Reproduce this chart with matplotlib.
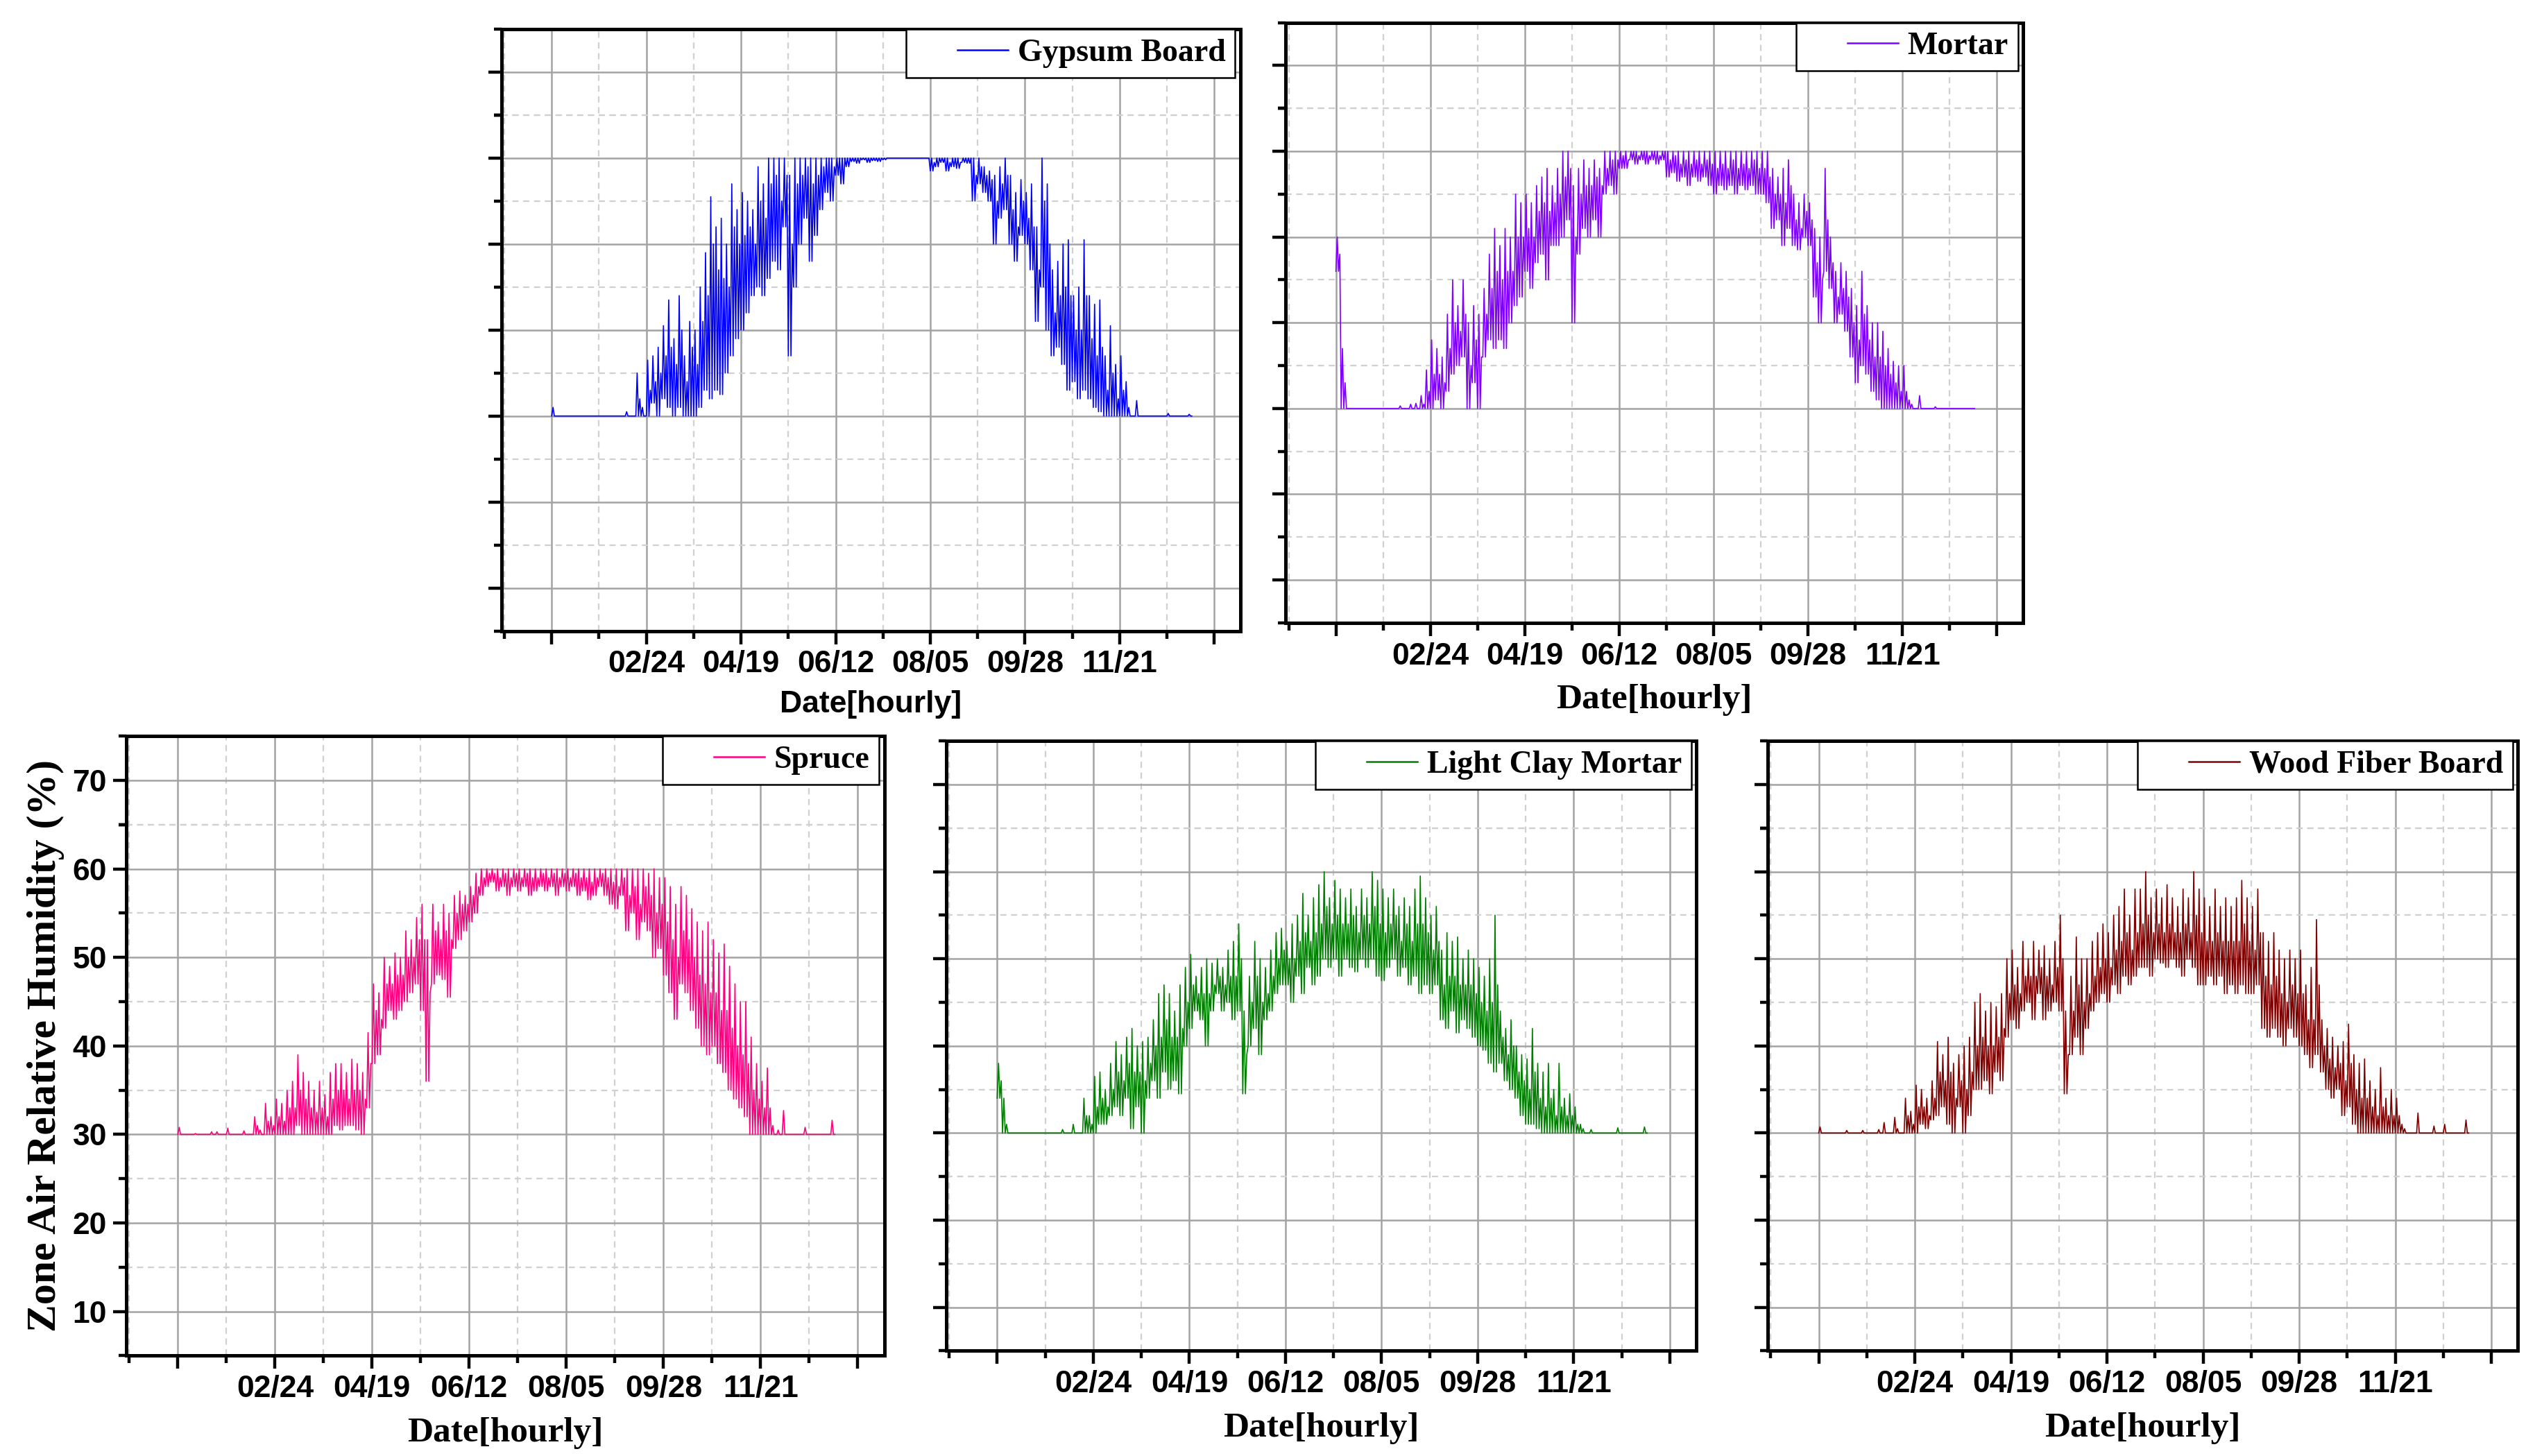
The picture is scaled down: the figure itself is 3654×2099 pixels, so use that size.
import numpy as np
import matplotlib
matplotlib.use("Agg")
import matplotlib.pyplot as plt
from matplotlib import font_manager
from matplotlib.legend_handler import HandlerLine2D
from matplotlib.ticker import FixedLocator

# Sampling days (every 3 days); each sample keeps the low, the high and a second
# (smaller) peak of the hourly trace inside that 3-day window
day = np.arange(0, 366, 3)

tick_hours = [0, 1296, 2592, 3888, 5184, 6480, 7776, 9072]
tick_labels = ["", "02/24", "04/19", "06/12", "08/05", "09/28", "11/21", ""]
y_ticks = [10, 20, 30, 40, 50, 60, 70]

gypsum_lo = [30, 30, 30, 30, 30, 30, 30, 30, 30, 30,
             30, 30, 30, 30, 30, 30, 30, 30, 30, 31.5,
             30, 32, 31, 30, 31, 30, 30, 30, 31, 33,
             32, 33, 32.5, 35, 37, 39, 40, 42, 44, 45,
             44, 46, 48, 47, 52, 37, 45, 50, 53, 48,
             51, 54, 56, 55, 58, 57, 59, 59.6, 59.4, 59.8,
             59.5, 59.7, 59.6, 59.8, 60, 60, 60, 60, 60, 60,
             60, 60, 58.5, 59, 59.5, 58.5, 59, 58.8, 59.5, 59.4,
             55, 57, 56, 55, 50, 53, 54, 50, 48, 51,
             50, 47, 41, 45, 40, 37, 38, 36, 33, 34,
             32, 33, 32, 31, 30.5, 30, 30, 30, 30, 30,
             30, 30, 30, 30, 30, 30, 30, 30, 30, 30,
             30, 30]
gypsum_hi = [31, 30, 30, 30, 30, 30, 30, 30, 30, 30,
             30, 30, 30, 30, 30.5, 30, 35, 31, 36.5, 37,
             38, 40.5, 43.5, 39, 44, 37, 41, 40, 45, 49,
             55.5, 52, 53, 50, 57, 54, 56, 55, 54, 59,
             57, 60, 60, 60, 60, 58, 60, 60, 60, 60,
             60, 60, 60, 60, 60, 60, 60, 60, 60, 60,
             60, 60, 60, 60, 60, 60, 60, 60, 60, 60,
             60, 60, 60, 60, 60, 60, 60, 60, 60, 60,
             60, 60, 59, 58.5, 58, 59, 60, 58, 56, 57.5,
             56, 57, 52, 60, 57, 47, 48, 50, 50.5, 44,
             45, 50.5, 44, 43, 43.5, 37, 40.5, 36, 37, 34,
             30, 31.8, 30, 30, 30, 30, 30, 30.3, 30, 30,
             30, 30.2]
gypsum_mid = [30, 30, 30, 30, 30, 30, 30, 30, 30, 30,
              30, 30, 30, 30, 30, 30, 32, 30, 33, 34,
              35, 37, 38, 36, 40, 34, 38, 36, 41, 44,
              50, 47, 46, 45, 52, 50, 51, 52, 50, 55,
              53, 57, 58, 55, 58, 50, 57, 58, 59, 57,
              58, 59, 60, 59, 60, 60, 60, 60, 60, 60,
              60, 60, 60, 60, 60, 60, 60, 60, 60, 60,
              60, 60, 59.5, 60, 60, 59.5, 60, 59.5, 60, 60,
              58, 59, 58, 57.5, 55, 57, 58, 54, 52, 55,
              53, 52, 47, 55, 50, 42, 44, 45, 44, 40,
              40, 44, 39, 37, 38, 33, 35, 32, 33, 31,
              30, 30, 30, 30, 30, 30, 30, 30, 30, 30,
              30, 30]

mortar_lo = [46, 30, 30, 30, 30, 30, 30, 30, 30, 30,
             30, 30, 30, 30, 30, 30, 30, 30, 30, 31,
             30, 32, 34, 35, 36, 30, 33, 30, 36, 38,
             37, 38, 37, 40, 42, 43, 46, 44, 47, 48,
             45, 49, 49, 50, 52, 40, 48, 51, 50, 52,
             50, 55, 56, 55, 58, 58, 59, 58.5, 59, 58.5,
             59, 58.5, 59, 57, 57.5, 56.5, 57, 56, 57, 56.5,
             57, 56, 55, 56, 55.5, 56, 55, 56, 55.5, 56,
             55, 55, 54, 51, 52, 49, 51, 49, 48.5, 50,
             49, 43, 40, 46, 44, 40, 41, 39, 36, 33,
             35, 34, 32, 31, 30, 30, 30, 30, 30, 30,
             30, 30, 30, 30, 30, 30, 30, 30, 30, 30,
             30, 30]
mortar_hi = [50, 37, 30, 30, 30, 30, 30, 30, 30, 30,
             30, 30, 30.3, 30, 30.5, 30.6, 31.5, 34.5, 38, 37,
             36, 41, 45, 42, 45, 40, 42, 41, 44, 48,
             51, 49, 51, 50, 55, 54, 55, 54, 56, 57,
             58, 56, 58, 60, 60, 56, 58, 59, 58, 59,
             58, 60, 60, 60, 60, 60, 60, 60, 60, 60,
             60, 60, 60, 60, 60, 60, 60, 60, 60, 60,
             60, 60, 60, 60, 60, 60, 60, 60, 60, 60,
             60, 60, 60, 58, 57, 58, 59, 55, 54, 55,
             54, 51, 50, 58, 50, 46, 47, 46, 44, 42,
             46, 42, 40, 40, 39, 37, 35.5, 35, 35, 31,
             30, 31.5, 30, 30, 30.2, 30, 30, 30, 30, 30,
             30, 30]
mortar_mid = [48, 33, 30, 30, 30, 30, 30, 30, 30, 30,
              30, 30, 30, 30, 30, 30, 30.5, 32, 34, 34,
              33, 37, 40, 39, 41, 35, 38, 36, 41, 44,
              46, 45, 46, 46, 50, 50, 51, 50, 53, 54,
              53, 54, 55, 57, 58, 50, 55, 56, 56, 57,
              56, 58, 59, 59, 59.5, 59, 60, 59.5, 60, 59.5,
              60, 59.5, 60, 59, 59.5, 58.5, 59, 58.5, 59, 58.5,
              59, 58.5, 58, 58.5, 58, 59, 58, 58.5, 58, 59,
              58, 58, 57, 55, 55, 54, 56, 52, 51, 53,
              52, 47, 45, 52, 47, 43, 44, 43, 40, 38,
              41, 38, 36, 36, 35, 34, 33, 32, 32, 30.5,
              30, 30, 30, 30, 30, 30, 30, 30, 30, 30,
              30, 30]

spruce_lo = [30, 30, 30, 30, 30, 30, 30, 30, 30, 30,
             30, 30, 30, 30, 30, 30, 30, 30, 30, 30,
             30, 30, 31, 30, 30, 30, 30, 30, 30, 31,
             30.5, 31, 31, 30.5, 30, 33, 38, 39, 42, 44,
             43, 44, 45, 46, 47, 44, 36, 47, 48, 47.5,
             45.5, 51, 52, 53, 54, 55, 57, 58, 58.5, 57.5,
             58, 57, 58, 57.5, 58, 57, 57.5, 58, 57.5, 58,
             57, 58, 57.5, 58, 57, 57.5, 56.5, 57, 58, 57,
             56, 55.5, 57, 53, 55, 52, 54, 53, 50, 51,
             48, 46, 43, 47, 46, 44, 42, 40, 39, 40,
             38, 37, 35, 34, 33, 32, 30, 30, 30, 30,
             30, 30, 30, 30, 30, 30, 30, 30, 30, 30,
             30, 30]
spruce_hi = [30.8, 30, 30, 30.1, 30, 30, 30.3, 30.3, 30, 30.7,
             30, 30, 30.4, 30, 32, 30.5, 33.5, 32, 34, 33.5,
             35, 36, 39, 37, 36, 35, 36, 34.5, 37, 38,
             38, 37, 38.5, 38, 37, 41.5, 47, 46, 50, 49,
             50.5, 50, 53, 52, 54.5, 56, 52, 56, 54, 56,
             55, 57, 57.5, 57, 58, 59.5, 60, 60, 60, 60,
             60, 60, 60, 60, 60, 60, 60, 60, 60, 60,
             60, 60, 60, 60, 60, 60, 60, 60, 60, 60,
             60, 60, 60, 60, 60, 60, 60, 59.5, 60, 59,
             59, 58, 56, 58, 57, 55.5, 54, 53, 54, 52,
             50.5, 51.5, 49, 47, 45, 45, 41, 38, 36, 37.5,
             31, 30.5, 32.7, 30, 30, 30, 30.8, 30, 30, 30,
             30, 31.6]
spruce_mid = [30, 30, 30, 30, 30, 30, 30, 30, 30, 30,
              30, 30, 30, 30, 31, 30, 31.5, 31, 32, 31.5,
              33, 33, 35, 34, 33, 32.5, 33, 32, 34, 35,
              35, 34, 35, 35, 34, 38, 44, 43, 47, 47,
              48, 48, 50, 50, 52, 52, 46, 53, 52, 53,
              52, 55, 56, 56, 57, 58, 59, 59.5, 59.5, 59,
              59.5, 59, 59.5, 59, 59.5, 59, 59, 59.5, 59, 59.5,
              59, 59.5, 59, 59.5, 59, 59, 58.5, 59, 59.5, 59,
              58.5, 58, 59, 57, 58, 56, 58, 57, 55, 56,
              54, 52, 50, 53, 52, 50, 48, 47, 46, 46,
              44, 44, 42, 40, 39, 38, 35, 34, 33, 33,
              30, 30, 30, 30, 30, 30, 30, 30, 30, 30,
              30, 30]

clay_lo = [34, 30, 30, 30, 30, 30, 30, 30, 30, 30,
           30, 30, 30, 30, 30, 30, 30, 30, 30, 31,
           31, 32, 33, 32, 34, 30.5, 33, 30, 34, 36,
           34, 37, 35, 36, 34.5, 40, 42, 44, 43, 40,
           44, 46, 44, 45, 43, 44, 34.5, 40, 42, 39,
           43, 44, 46, 47, 47, 45, 48, 46, 49, 47,
           48, 50, 49, 50, 48, 50, 49, 48.5, 50, 49,
           50, 48, 47.5, 49, 50, 48, 49, 47, 48, 46,
           47, 46, 47, 43, 42, 44, 41.5, 43, 42, 41,
           40, 39.5, 38, 37, 38, 36, 35, 34, 32, 31,
           31, 30.5, 30, 30, 30, 30, 30, 30, 30, 30,
           30, 30, 30, 30, 30, 30, 30, 30, 30, 30,
           30, 30]
clay_hi = [38, 34, 30, 30, 30, 30, 30, 30, 30, 30,
           30, 30, 30.4, 30, 31, 30, 34, 32, 36.5, 37,
           35, 38, 40.5, 39, 41, 42, 40, 40.5, 41, 43,
           46, 47, 46, 44, 47, 49, 50.5, 48, 49, 50,
           49.5, 50, 49, 51, 52, 54, 44, 48, 52, 50,
           49, 51, 53, 53.5, 52, 54, 55, 57.5, 55, 57,
           58.5, 60, 57, 59, 58, 57, 58, 56, 58, 57,
           60, 59, 58, 57, 58, 56, 57, 56, 58, 59.5,
           57, 55, 56, 51, 53, 52, 52.5, 50, 51, 50,
           49, 48, 50, 55, 44, 42, 43, 40, 39, 38.5,
           42, 38, 37, 38, 35, 38, 34, 34.5, 33, 31,
           30, 30.4, 30, 30, 30, 30, 30.6, 30, 30, 30,
           30, 30.7]
clay_mid = [36, 31, 30, 30, 30, 30, 30, 30, 30, 30,
            30, 30, 30, 30, 30, 30, 32, 31, 33, 34,
            33, 35, 37, 36, 38, 37, 37, 36, 38, 40,
            41, 43, 41, 41, 42, 45, 47, 46, 46, 46,
            47, 48, 47, 48, 48, 50, 39, 45, 48, 45,
            46, 48, 50, 51, 50, 50, 52, 53, 52, 53,
            54, 56, 54, 55, 54, 54, 55, 53, 55, 54,
            56, 54, 53, 54, 55, 52, 54, 52, 54, 54,
            53, 51, 52, 47, 48, 48, 47, 47, 47, 46,
            45, 44, 45, 47, 41, 39, 40, 37, 36, 35,
            37, 34, 33, 34, 32, 33, 32, 32, 31, 30.5,
            30, 30, 30, 30, 30, 30, 30, 30, 30, 30,
            30, 30]

wood_lo = [30, 30, 30, 30, 30, 30, 30, 30, 30, 30,
           30, 30, 30, 30, 30, 30, 30, 30, 30, 31,
           30.5, 31.5, 32, 33, 31, 30, 33, 30, 32, 35,
           35, 36, 34.5, 37, 36, 41, 43, 42, 44, 45,
           43, 46, 43, 44, 45, 44, 34.5, 39, 41, 39,
           42, 44, 45, 46, 45, 47, 46, 48, 47, 48,
           49, 49, 48, 50, 49.5, 49, 50, 49, 48, 50,
           49, 47, 47, 48, 47, 48, 46, 47, 46, 47,
           46, 46, 47, 42, 41, 42, 41, 40, 42, 41,
           40, 39, 37.5, 39, 37, 35, 34, 35, 32, 33,
           31, 30, 30, 30, 30, 30, 30, 30, 30, 30,
           30, 30, 30, 30, 30, 30, 30, 30, 30, 30,
           30, 30]
wood_hi = [30.7, 30, 30, 30, 30, 30.3, 30, 30, 30.3, 30,
           30, 30.4, 31.2, 30, 31.8, 30, 34, 32.5, 35.5, 35,
           34, 36, 40.5, 39, 41, 38, 39, 40, 41, 45,
           46, 44, 45, 44.5, 46, 50, 51, 49, 52, 50,
           52, 51, 51.5, 50, 52, 55, 44, 48, 52.5, 50,
           50, 52, 53, 54, 53, 55, 56, 58, 55, 58,
           58, 60, 57, 58, 57, 58.5, 57, 56, 58, 57,
           60, 58, 57, 56, 58, 56, 57, 56, 57, 59,
           57, 56, 58, 53, 52, 53, 51, 50, 51, 50,
           51, 47, 49, 54.5, 43, 42, 41, 40, 40.5, 42.5,
           39, 38, 38.5, 36, 35, 37.5, 34, 35, 34, 31,
           30, 30, 32.3, 30, 30, 30.8, 30, 31, 30, 30,
           30, 31.5]
wood_mid = [30, 30, 30, 30, 30, 30, 30, 30, 30, 30,
            30, 30, 30, 30, 30.5, 30, 32, 31, 33, 33,
            32, 34, 37, 36, 37, 34, 36, 35, 37, 40,
            41, 40, 40, 41, 42, 46, 47, 46, 48, 48,
            48, 49, 48, 47, 49, 50, 39, 44, 47, 45,
            46, 48, 49, 50, 49, 51, 52, 53, 51, 53,
            54, 55, 53, 54, 53, 54, 53, 53, 54, 53,
            55, 53, 52, 52, 53, 52, 52, 52, 52, 54,
            52, 51, 53, 48, 47, 48, 46, 45, 47, 46,
            46, 43, 43, 47, 40, 38.5, 37.5, 38, 36, 38,
            35, 34, 34, 33, 32, 33, 32, 32, 32, 30.5,
            30, 30, 30, 30, 30, 30, 30, 30, 30, 30,
            30, 30]

installed = {f.name for f in font_manager.fontManager.ttflist}
SANS = "Liberation Sans Narrow" if "Liberation Sans Narrow" in installed else "Liberation Sans"
SERIF = "Liberation Serif"
TICK_SIZE = 19 if SANS.endswith("Narrow") else 16

plt.rcParams["font.family"] = [SANS, "DejaVu Sans"]
plt.rcParams["font.weight"] = "bold"


def trace(lo, hi, mid):
    # hourly trace drawn as low -> high -> low -> second peak within each 3-day sample
    n = len(day)
    hours = np.empty(4 * n)
    rh = np.empty(4 * n)
    base = day * 24
    hours[0::4] = base
    hours[1::4] = base + 18
    hours[2::4] = base + 36
    hours[3::4] = base + 54
    rh[0::4] = lo
    rh[1::4] = hi
    rh[2::4] = lo
    rh[3::4] = mid
    return hours, rh


def draw_panel(ax, name, lo, hi, mid, color, show_y, sans_xlabel=False):
    hours, rh = trace(lo, hi, mid)
    line, = ax.plot(hours, rh, color=color, lw=0.6, label=name)

    ax.set_xlim(-690, 9430)
    ax.set_ylim(5, 75)
    ax.xaxis.set_major_locator(FixedLocator(tick_hours))
    ax.xaxis.set_minor_locator(FixedLocator([h - 648 for h in tick_hours]))
    ax.set_xticklabels(tick_labels)
    ax.yaxis.set_major_locator(FixedLocator(y_ticks))
    ax.yaxis.set_minor_locator(FixedLocator([t - 5 for t in y_ticks] + [65, 75]))
    if show_y:
        ax.set_yticklabels([str(t) for t in y_ticks])
    else:
        ax.set_yticklabels([])

    ax.grid(which="major", color="#a3a3a3", lw=0.9, ls="-")
    ax.grid(which="minor", color="#d0d0d0", lw=0.8, ls=(0, (4, 3)))
    ax.set_axisbelow(True)

    ax.tick_params(which="both", direction="out", width=1.6, top=False, right=False,
                   labelsize=TICK_SIZE)
    ax.tick_params(which="major", length=7, pad=3)
    ax.tick_params(which="minor", length=4)
    for s in ax.spines.values():
        s.set_linewidth(1.8)
        s.set_color("black")

    if sans_xlabel:
        ax.set_xlabel("Date[hourly]", fontsize=TICK_SIZE, fontweight="bold", labelpad=6)
    else:
        ax.set_xlabel("Date[hourly]", family=SERIF, fontsize=18.5, fontweight="bold",
                      labelpad=7)

    leg = ax.legend(handles=[line], loc="upper right", bbox_to_anchor=(0.993, 1.0),
                    borderaxespad=0, frameon=True, fancybox=False, framealpha=1,
                    edgecolor="black", handlelength=2.9, handletextpad=0.3,
                    borderpad=0.3, prop={"family": SERIF, "weight": "bold", "size": 16.5},
                    handler_map={line: HandlerLine2D(xpad=1.3)})
    leg.get_frame().set_linewidth(0.9)
    leg.get_lines()[0].set_linewidth(0.9)


fig = plt.figure(figsize=(18.275, 10.495), dpi=200)

W, H = 1568.0, 900.0


def box(x0, x1, y0, y1):
    return [x0 / W, 1 - y1 / H, (x1 - x0) / W, (y1 - y0) / H]


ax1 = fig.add_axes(box(310, 767, 18, 390))
ax2 = fig.add_axes(box(795, 1251, 14, 385))
ax3 = fig.add_axes(box(78, 547, 455, 838))
ax4 = fig.add_axes(box(585, 1049, 458, 835))
ax5 = fig.add_axes(box(1093, 1557, 458, 835))

draw_panel(ax1, "Gypsum Board", gypsum_lo, gypsum_hi, gypsum_mid, "#0000ff", False,
           sans_xlabel=True)
draw_panel(ax2, "Mortar", mortar_lo, mortar_hi, mortar_mid, "#8000ff", False)
draw_panel(ax3, "Spruce", spruce_lo, spruce_hi, spruce_mid, "#ff0080", True)
draw_panel(ax4, "Light Clay Mortar", clay_lo, clay_hi, clay_mid, "#008000", False)
draw_panel(ax5, "Wood Fiber Board", wood_lo, wood_hi, wood_mid, "#800000", False)

ax3.set_ylabel("Zone Air Relative Humidity (%)", family=SERIF, fontsize=21.5,
               fontweight="bold", labelpad=4)

fig.savefig("out.png", dpi=200)
